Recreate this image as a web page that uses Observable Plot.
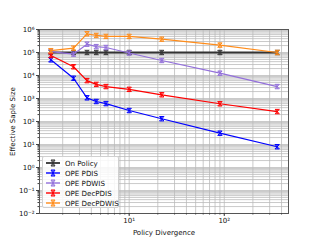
<!DOCTYPE html>
<html><head><meta charset="utf-8">
<script src="https://cdn.jsdelivr.net/npm/d3@7"></script>
<script src="https://cdn.jsdelivr.net/npm/@observablehq/plot@0.6"></script>
<style>
body{margin:0;background:#fff;}
#wrap{position:relative;width:320px;height:240px;font-family:"DejaVu Sans",sans-serif;overflow:hidden;}
#legend{position:absolute;left:42px;top:156px;width:77px;height:52px;box-sizing:border-box;border:1px solid #d0d0d0;border-radius:2px;background:rgba(255,255,255,0.85);font-size:7.1px;color:#111;}
.row{position:absolute;left:2px;height:10px;display:flex;align-items:center;white-space:nowrap;}
.row svg{margin-right:4px;flex:none;}
</style></head><body><div id="wrap"></div>
<script>
const divergence = [1.5, 2.6, 3.6, 4.5, 5.7, 10, 22, 90, 360];
const onPolicy = [1e5, 1e5, 1e5, 1e5, 1e5, 1e5, 1e5, 1e5, 1e5];
const opePDIS = [4.8e4, 7.6e3, 1.07e3, 740, 600, 300, 132, 31, 8];
const opePDWIS = [1.1e5, 8.5e4, 2.3e5, 1.8e5, 1.65e5, 9.5e4, 4.5e4, 1.26e4, 3.3e3];
const opeDecPDIS = [7.4e4, 2.4e4, 6e3, 4.1e3, 3.3e3, 2.5e3, 1.45e3, 590, 270];
const opeDecPDWIS = [1.2e5, 1.55e5, 6.5e5, 5.5e5, 5e5, 5e5, 3.8e5, 2.1e5, 1e5];
const seriesNames = ["On Policy", "OPE PDIS", "OPE PDWIS", "OPE DecPDIS", "OPE DecPDWIS"];
const seriesValues = [onPolicy, opePDIS, opePDWIS, opeDecPDIS, opeDecPDWIS];
const seriesColors = ["#333333", "#0000ff", "#9370db", "#ff0000", "#ff8c1a"];
const xTickValues = [10, 100];
const yTickValues = [1e-2, 1e-1, 1e0, 1e1, 1e2, 1e3, 1e4, 1e5, 1e6];

const supMap = {"-":"\u207b","0":"\u2070","1":"\u00b9","2":"\u00b2","3":"\u00b3","4":"\u2074","5":"\u2075","6":"\u2076","7":"\u2077","8":"\u2078","9":"\u2079"};
const sup = v => "10" + String(Math.round(Math.log10(v))).split("").map(c => supMap[c]).join("");

const lx = d3.extent(divergence).map(Math.log10);
const pad = (lx[1] - lx[0]) * 0.05;
const xDomain = [10 ** (lx[0] - pad), 10 ** (lx[1] + pad)];
const yDomain = [1e-2, 1e6];

const xMinor = [], yMinor = [];
for (let d = 0; d <= 3; d++) for (let m = 1; m <= 9; m++) { const v = m * 10 ** d; if (v >= xDomain[0] && v <= xDomain[1]) xMinor.push(v); }
for (let d = -2; d <= 6; d++) for (let m = 1; m <= 9; m++) { const v = m * 10 ** d; if (v >= yDomain[0] && v <= yDomain[1]) yMinor.push(v); }

const capX = {
  draw(ctx, size) {
    const r = Math.sqrt(size / Math.PI);
    ctx.moveTo(-r, -r); ctx.lineTo(r, r);
    ctx.moveTo(r, -r); ctx.lineTo(-r, r);
    ctx.moveTo(-r, -r); ctx.lineTo(r, -r);
    ctx.moveTo(-r, r); ctx.lineTo(r, r);
    ctx.moveTo(0, -r); ctx.lineTo(0, r);
  }
};

const seriesMarks = seriesNames.flatMap((name, i) => {
  const rows = divergence.map((x, j) => ({x, y: seriesValues[i][j]}));
  return [
    Plot.line(rows, {x: "x", y: "y", stroke: seriesColors[i], strokeWidth: i === 0 ? 2.2 : 1.2}),
    Plot.dot(rows, {x: "x", y: "y", symbol: capX, r: 2.2, stroke: seriesColors[i], strokeWidth: 1})
  ];
});

const chart = Plot.plot({
  width: 320, height: 240,
  marginLeft: 39, marginRight: 32, marginTop: 29, marginBottom: 27,
  style: {fontFamily: "DejaVu Sans, sans-serif", fontSize: "7px", background: "white", color: "#111"},
  x: {type: "log", domain: xDomain},
  y: {type: "log", domain: yDomain},
  marks: [
    Plot.gridX(xMinor, {stroke: "#b8b8b8", strokeOpacity: 0.75}),
    Plot.gridY(yMinor, {stroke: "#b8b8b8", strokeOpacity: 0.75}),
    ...seriesMarks,
    Plot.frame({stroke: "#555", strokeWidth: 1}),
    Plot.axisX(xMinor, {tickSize: 1.5, tickFormat: () => "", label: null, stroke: "#444"}),
    Plot.axisY(yMinor, {tickSize: 1.5, tickFormat: () => "", label: null, stroke: "#444"}),
    Plot.axisX(xTickValues, {tickSize: 3, tickPadding: 2, tickFormat: sup, label: "Policy Divergence", labelAnchor: "center", labelArrow: "none", labelOffset: 21, stroke: "#444", fill: "#111"}),
    Plot.axisY(yTickValues, {tickSize: 3, tickPadding: 2, tickFormat: sup, label: "Effective Saple Size", labelAnchor: "center", labelArrow: "none", labelOffset: 29, stroke: "#444", fill: "#111"})
  ]
});
const wrap = document.getElementById("wrap");
wrap.appendChild(chart);

const legend = document.createElement("div");
legend.id = "legend";
seriesNames.forEach((name, i) => {
  const row = document.createElement("div");
  row.className = "row";
  row.style.top = (1 + i * 10) + "px";
  const c = seriesColors[i];
  row.innerHTML = `<svg width="16" height="8"><line x1="1" y1="4" x2="15" y2="4" stroke="${c}" stroke-width="${i===0?1.8:1.4}"/><path d="M6,1L10,7M10,1L6,7M6,1H10M6,7H10M8,1V7" stroke="${c}" stroke-width="1" fill="none"/></svg><span>${name}</span>`;
  legend.appendChild(row);
});
wrap.appendChild(legend);
</script>
</body></html>
